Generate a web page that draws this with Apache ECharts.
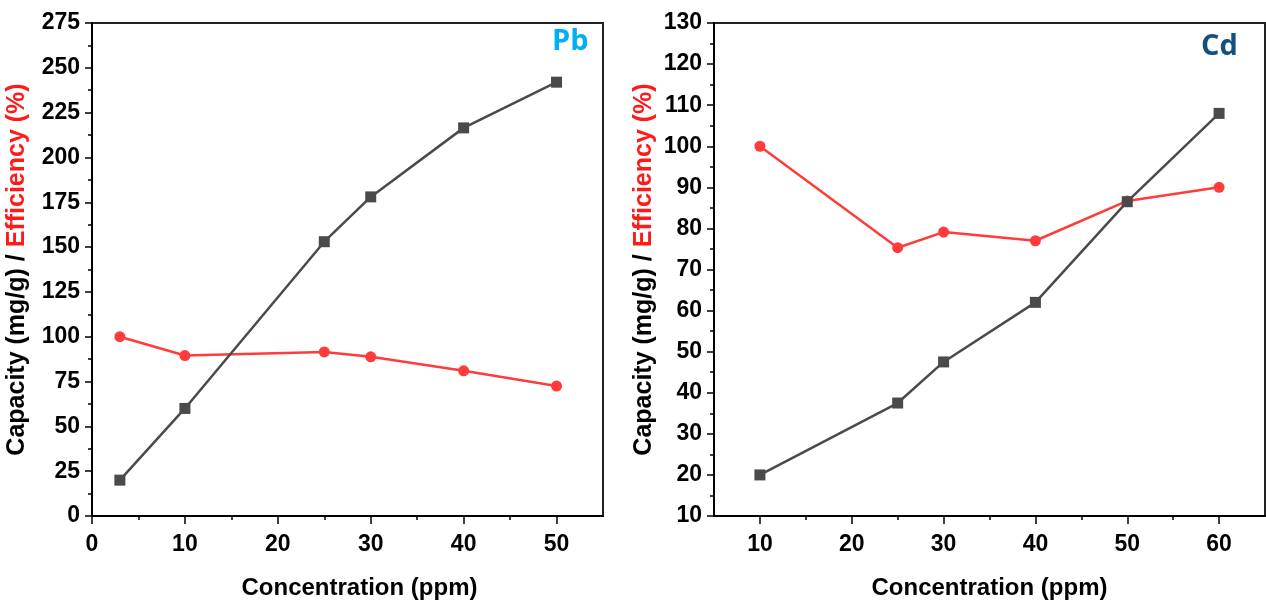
<!DOCTYPE html>
<html><head><meta charset="utf-8">
<script src="https://cdn.jsdelivr.net/npm/echarts@6/dist/echarts.min.js"></script>
<style>html,body{margin:0;padding:0;background:#fff}#c{width:1266px;height:605px}</style>
</head><body><div id="c"></div>
<script>
// Pb panel
const pbConc = [3, 10, 25, 30, 40, 50];
const pbCapacity = [20, 60, 153, 178, 216.5, 242];
const pbEfficiency = [100, 89.5, 91.5, 88.8, 81, 72.5];
// Cd panel
const cdConc = [10, 25, 30, 40, 50, 60];
const cdCapacity = [20, 37.5, 47.5, 62, 86.5, 108];
const cdEfficiency = [100, 75.3, 79.1, 77, 86.7, 90];
// tick labels
const pbXMajor = [0, 10, 20, 30, 40, 50];
const pbXMinor = [5, 15, 25, 35, 45];
const cdXMajor = [10, 20, 30, 40, 50, 60];
const cdXMinor = [15, 25, 35, 45, 55];
const panelLabels = ['Pb', 'Cd'];
const xTitle = 'Concentration (ppm)';

const FONT = '"Liberation Sans", Arial, sans-serif';
const NFONT = '"Liberation Sans Narrow", "Arial Narrow", "Liberation Sans", Arial, sans-serif';
const pairs = (xs, ys) => xs.map((x, i) => [x, ys[i]]);

const grids = [
  {left: 92, top: 23, width: 511, height: 495, show: true, borderColor: '#222', borderWidth: 2, backgroundColor: 'transparent'},
  {left: 714, top: 23, width: 551, height: 495, show: true, borderColor: '#222', borderWidth: 2, backgroundColor: 'transparent'}
];

function majorX(gi, min, max, major, padLeft) {
  return {
    type: 'value', gridIndex: gi, position: 'bottom', min: min, max: max, interval: 5,
    axisLine: {show: true, onZero: false, lineStyle: {color: '#000', width: 2}},
    axisTick: {show: true, customValues: major, length: 8, lineStyle: {color: '#000', width: 1.5}},
    axisLabel: {show: true, customValues: major, margin: 17, color: '#000', fontSize: 23, fontWeight: 'bold', fontFamily: NFONT},
    splitLine: {show: false},
    name: xTitle, nameLocation: 'middle', nameGap: 60,
    nameTextStyle: {color: '#000', fontSize: 24, fontWeight: 'bold', fontFamily: FONT, padding: [0, 0, 0, padLeft]}
  };
}
function minorX(gi, min, max, minor) {
  return {
    type: 'value', gridIndex: gi, position: 'bottom', min: min, max: max, interval: 5,
    axisLine: {show: false, onZero: false},
    axisTick: {show: true, customValues: minor, length: 4, lineStyle: {color: '#000', width: 1.5}},
    axisLabel: {show: false}, splitLine: {show: false}
  };
}
function yAx(gi, min, max, interval, gap) {
  return {
    type: 'value', gridIndex: gi, min: min, max: max, interval: interval,
    axisLine: {show: true, onZero: false, lineStyle: {color: '#000', width: 2}},
    axisTick: {show: true, length: 7, lineStyle: {color: '#000', width: 1.5}},
    minorTick: {show: true, splitNumber: 2, length: 4, lineStyle: {color: '#000', width: 1.5}},
    axisLabel: {margin: 12, color: '#000', fontSize: 23, fontWeight: 'bold', fontFamily: NFONT},
    splitLine: {show: false},
    name: '{a|Capacity (mg/g) / }{b|Efficiency (%)}',
    nameLocation: 'middle', nameGap: gap,
    nameTextStyle: {
      fontSize: 25, fontWeight: 'bold', fontFamily: FONT,
      rich: {
        a: {color: '#000', fontSize: 25, fontWeight: 'bold', fontFamily: FONT},
        b: {color: '#ff1a1a', fontSize: 25, fontWeight: 'bold', fontFamily: FONT}
      }
    }
  };
}

const BLACK = '#4a4a4a', RED = '#ff3b3b';
function capSeries(xi, yi, data) {
  return {type: 'line', xAxisIndex: xi, yAxisIndex: yi, data: data, symbol: 'rect', symbolSize: 11,
    lineStyle: {color: BLACK, width: 2.5}, itemStyle: {color: BLACK}, z: 3, animation: false};
}
function effSeries(xi, yi, data) {
  return {type: 'line', xAxisIndex: xi, yAxisIndex: yi, data: data, symbol: 'circle', symbolSize: 11,
    lineStyle: {color: RED, width: 2.5}, itemStyle: {color: RED}, z: 2, animation: false};
}

const option = {
  animation: false,
  grid: grids,
  xAxis: [
    majorX(0, 0, 55, pbXMajor, 24), minorX(0, 0, 55, pbXMinor),
    majorX(1, 5, 65, cdXMajor, 0), minorX(1, 5, 65, cdXMinor)
  ],
  yAxis: [yAx(0, 0, 275, 25, 62), yAx(1, 10, 130, 10, 57)],
  graphic: [
    {type: 'text', left: 552, top: 27, style: {text: panelLabels[0], fill: '#00b0f0', font: 'bold 29px "Open Sans", "Noto Sans", sans-serif'}},
    {type: 'text', left: 1201, top: 32, style: {text: panelLabels[1], fill: '#14507f', font: 'bold 29px "Open Sans", "Noto Sans", sans-serif'}}
  ],
  series: [
    effSeries(0, 0, pairs(pbConc, pbEfficiency)),
    capSeries(0, 0, pairs(pbConc, pbCapacity)),
    effSeries(2, 1, pairs(cdConc, cdEfficiency)),
    capSeries(2, 1, pairs(cdConc, cdCapacity))
  ]
};
const chart = echarts.init(document.getElementById('c'), null, {renderer: 'canvas'});
chart.setOption(option);
</script></body></html>
